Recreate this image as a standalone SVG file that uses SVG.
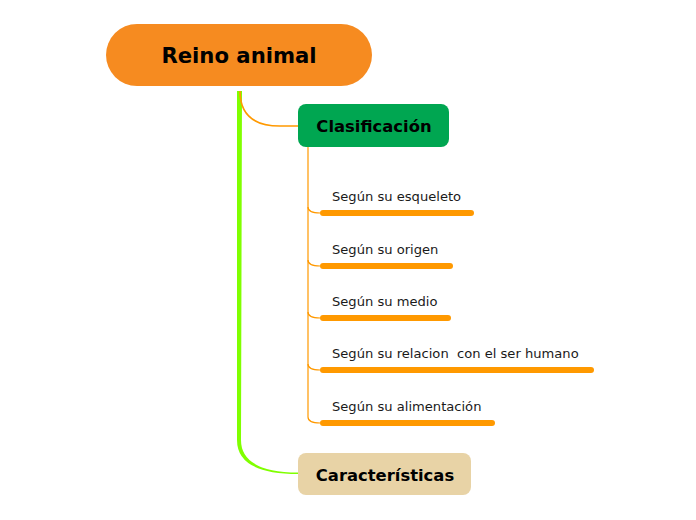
<svg xmlns="http://www.w3.org/2000/svg" width="696" height="520" viewBox="0 0 696 520">
<style>
.t{font-family:"DejaVu Sans",Verdana,sans-serif;fill:#000}
.h{font-weight:bold;text-anchor:middle}
.s{font-size:13.1px;fill:#1a1a1a}
.bar{stroke:#ff9900;stroke-width:6;stroke-linecap:round;fill:none}
.br{stroke:#ff9900;stroke-width:1.2;fill:none}
</style>
<rect width="696" height="520" fill="#fff"/>
<g id="connectors">
<path d="M237,91 L237,440 Q237,474 298,474 L298,472.5 Q241,472 241,440 L242,91 Z" fill="#80ff00"/>
<path d="M240,91 Q240,126 280,126 L298,126" stroke="#ff9900" stroke-width="1.6" fill="none"/>
<path class="br" d="M308,147 L308,417 Q308,423 320,423"/>
<path class="br" d="M308,207 Q308,213 320,213"/>
<path class="br" d="M308,260 Q308,266 320,266"/>
<path class="br" d="M308,312 Q308,318 320,318"/>
<path class="br" d="M308,364 Q308,370 320,370"/>
</g>
<g id="root">
<rect x="106" y="24" width="266" height="62" rx="31" fill="#f68b20"/>
<text class="t h" x="239" y="63" font-size="21.2">Reino animal</text>
</g>
<g id="clasificacion">
<rect x="298" y="104" width="151" height="43" rx="8" fill="#00a651"/>
<text class="t h" x="374" y="132" font-size="16.4">Clasificación</text>
</g>
<g id="caracteristicas">
<rect x="298" y="453" width="173" height="42" rx="8" fill="#e8d3a6"/>
<text class="t h" x="385" y="481" font-size="16.4">Características</text>
</g>
<g id="esqueleto">
<line class="bar" x1="323" y1="213" x2="471" y2="213"/>
<text class="t s" x="332" y="201">Según su esqueleto</text>
</g>
<g id="origen">
<line class="bar" x1="323" y1="266" x2="450" y2="266"/>
<text class="t s" x="332" y="254">Según su origen</text>
</g>
<g id="medio">
<line class="bar" x1="323" y1="318" x2="448" y2="318"/>
<text class="t s" x="332" y="306">Según su medio</text>
</g>
<g id="relacion">
<line class="bar" x1="323" y1="370" x2="591" y2="370"/>
<text class="t s" x="332" y="358" xml:space="preserve">Según su relacion  con el ser humano</text>
</g>
<g id="alimentacion">
<line class="bar" x1="323" y1="423" x2="492" y2="423"/>
<text class="t s" x="332" y="411">Según su alimentación</text>
</g>
</svg>
